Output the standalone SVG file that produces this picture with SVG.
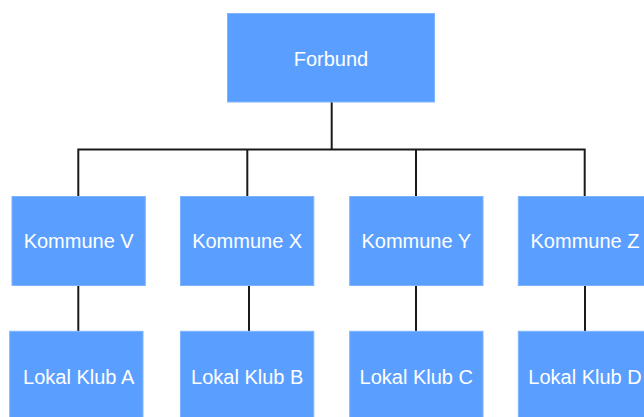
<svg xmlns="http://www.w3.org/2000/svg" width="644" height="417" viewBox="0 0 644 417">
<style>
.box{fill:#5a9fff;stroke:#7db4ff;stroke-width:1}
.lbl{font-family:"Liberation Sans",Arial,Helvetica,sans-serif;font-size:20px;fill:#ffffff;text-anchor:middle}
.ln{stroke:#1a1a1a;stroke-width:2;fill:none}
</style>
<rect width="644" height="417" fill="#ffffff"/>
<g id="connectors">
<line class="ln" x1="331.7" y1="102" x2="331.7" y2="149.5"/>
<polyline class="ln" points="78.3,196.5 78.3,149.5 584.7,149.5 584.7,196.5"/>
<line class="ln" x1="247.3" y1="149.5" x2="247.3" y2="196.5"/>
<line class="ln" x1="416" y1="149.5" x2="416" y2="196.5"/>
<line class="ln" x1="78.3" y1="285.5" x2="78.3" y2="331.5"/>
<line class="ln" x1="249" y1="285.5" x2="249" y2="331.5"/>
<line class="ln" x1="416" y1="285.5" x2="416" y2="331.5"/>
<line class="ln" x1="585" y1="285.5" x2="585" y2="331.5"/>
</g>
<g id="forbund"><rect class="box" x="227.5" y="13.5" width="207" height="88.5"/><text class="lbl" x="331" y="66">Forbund</text></g>
<g id="kommune-v"><rect class="box" x="12" y="196.5" width="133.3" height="89"/><text class="lbl" x="78.7" y="248.3">Kommune V</text></g>
<g id="kommune-x"><rect class="box" x="180.5" y="196.5" width="133.3" height="89"/><text class="lbl" x="247.2" y="248.3">Kommune X</text></g>
<g id="kommune-y"><rect class="box" x="349.7" y="196.5" width="133.3" height="89"/><text class="lbl" x="416.3" y="248.3">Kommune Y</text></g>
<g id="kommune-z"><rect class="box" x="518.3" y="196.5" width="133.3" height="89"/><text class="lbl" x="585" y="248.3">Kommune Z</text></g>
<g id="lokal-a"><rect class="box" x="9.7" y="331.3" width="133.3" height="100"/><text class="lbl" x="78.7" y="384">Lokal Klub A</text></g>
<g id="lokal-b"><rect class="box" x="180.5" y="331.3" width="133.3" height="100"/><text class="lbl" x="247.2" y="384">Lokal Klub B</text></g>
<g id="lokal-c"><rect class="box" x="349.7" y="331.3" width="133.3" height="100"/><text class="lbl" x="416.3" y="384">Lokal Klub C</text></g>
<g id="lokal-d"><rect class="box" x="518.3" y="331.3" width="133.3" height="100"/><text class="lbl" x="585" y="384">Lokal Klub D</text></g>
</svg>
